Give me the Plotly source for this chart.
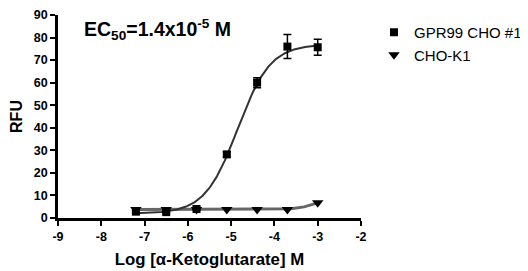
import numpy as np
import plotly.graph_objects as go

log_conc = [-7.2, -6.5, -5.8, -5.1, -4.4, -3.7, -3.0]
gpr99_rfu = [2.8, 2.6, 4.0, 28.2, 60.0, 76.0, 75.7]
gpr99_err = [0.6, 0.5, 0.6, 1.2, 2.2, 5.3, 3.5]
chok1_rfu = [3.8, 3.8, 3.8, 3.8, 3.8, 3.8, 6.8]

# 4-parameter logistic fit parameters (bottom, top, logEC50, hill)
gpr99_fit = dict(bottom=2.0, top=77.0, logec50=-4.85, hill=1.15)
chok1_fit = dict(bottom=3.8, top=9.8, logec50=-3.0, hill=2.0)

x_ticks = [-9, -8, -7, -6, -5, -4, -3, -2]
y_ticks = [0, 10, 20, 30, 40, 50, 60, 70, 80, 90]


def logistic(x, p):
    return p["bottom"] + (p["top"] - p["bottom"]) / (1 + 10 ** ((p["logec50"] - x) * p["hill"]))


xs = np.linspace(min(log_conc), max(log_conc), 200)

FONT = "Arial, Liberation Sans, sans-serif"
fig = go.Figure()
fig.add_trace(go.Scatter(x=xs, y=logistic(xs, chok1_fit), mode="lines",
                         line=dict(color="#666666", width=3), showlegend=False,
                         hoverinfo="skip", cliponaxis=False))
fig.add_trace(go.Scatter(x=xs, y=logistic(xs, gpr99_fit), mode="lines",
                         line=dict(color="#333333", width=2), showlegend=False,
                         hoverinfo="skip", cliponaxis=False))
fig.add_trace(go.Scatter(x=log_conc, y=gpr99_rfu, mode="markers", name="GPR99 CHO #1",
                         marker=dict(symbol="square", size=8, color="black"),
                         error_y=dict(type="data", array=gpr99_err, color="black",
                                      thickness=1.5, width=4),
                         cliponaxis=False))
fig.add_trace(go.Scatter(x=log_conc, y=chok1_rfu, mode="markers", name="CHO-K1",
                         marker=dict(symbol="triangle-down", size=10, color="black"),
                         cliponaxis=False))

axis_common = dict(showline=True, linecolor="black", linewidth=2.5, ticks="outside",
                   ticklen=5, tickwidth=2, tickcolor="black", showgrid=False,
                   zeroline=False, automargin=False,
                   tickfont=dict(family=FONT, size=12.5, color="black", weight=700))
fig.update_xaxes(range=[-9, -2], tickvals=x_ticks,
                 ticktext=["<b>%d</b>" % t for t in x_ticks],
                 title=dict(text="<b>Log [α-Ketoglutarate] M</b>", standoff=11,
                            font=dict(family=FONT, size=16.8, color="black", weight=700)),
                 **axis_common)
fig.update_yaxes(range=[0, 90], tickvals=y_ticks,
                 ticktext=["<b>%d</b>" % t for t in y_ticks],
                 title=dict(text="<b>RFU</b>", standoff=8,
                            font=dict(family=FONT, size=16, color="black", weight=700)),
                 **axis_common)

fig.add_annotation(text="<b>EC<sub>50</sub>=1.4x10<sup>-5</sup> M</b>",
                   xref="paper", yref="paper",
                   x=(82 - 58) / 303, y=(218 - 29) / 203, xanchor="left", yanchor="middle",
                   showarrow=False,
                   font=dict(family=FONT, size=19.5, color="black", weight=700))

fig.update_layout(width=520, height=263, margin=dict(l=50, r=167, t=7, b=53, autoexpand=False),
                  paper_bgcolor="white", plot_bgcolor="white",
                  legend=dict(xref="container", yref="container", x=366 / 520,
                              y=1 - 8 / 263, xanchor="left", yanchor="top",
                              font=dict(family=FONT, size=15, color="black"),
                              bgcolor="rgba(0,0,0,0)", tracegroupgap=0))
fig.write_html("out.html")
